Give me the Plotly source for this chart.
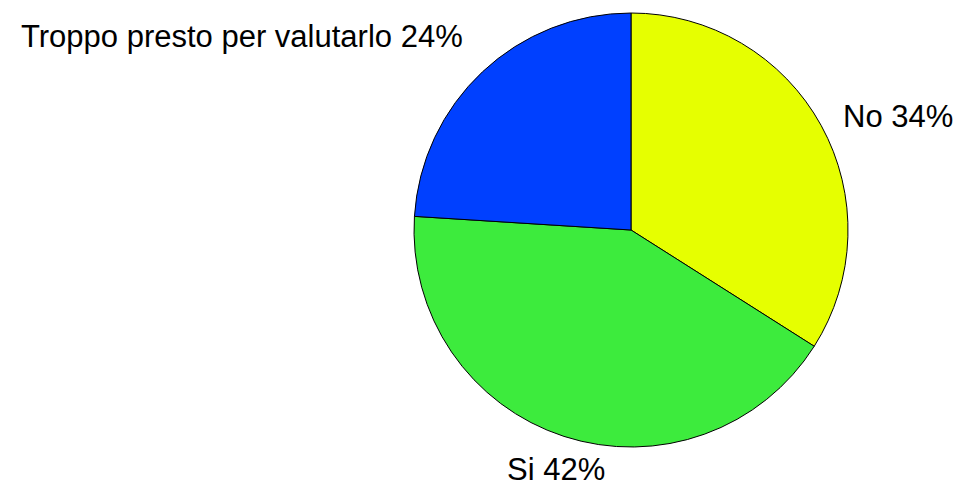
import plotly.graph_objects as go

labels = ["No", "Si", "Troppo presto per valutarlo"]
values = [34, 42, 24]
colors = ["#E6FF00", "#3DEB3D", "#0040FF"]

W, H = 957, 489
cx, cy, r = 631, 230, 217

fig = go.Figure(go.Pie(
    labels=labels, values=values, sort=False, direction="clockwise", rotation=0,
    marker=dict(colors=colors, line=dict(color="black", width=1)),
    textinfo="none", hoverinfo="label+percent", showlegend=False,
    domain=dict(x=[(cx - r) / W, (cx + r) / W], y=[1 - (cy + r) / H, 1 - (cy - r) / H]),
))

# label anchor positions (pixels): x, y, xanchor
label_pos = [(842, 116, "left"), (556, 469, "center"), (464, 37, "right")]
for lab, v, (x, y, xa) in zip(labels, values, label_pos):
    fig.add_annotation(text=f"{lab} {v}%", x=x / W, y=1 - y / H,
                       xref="paper", yref="paper",
                       xanchor=xa, yanchor="middle", showarrow=False, borderpad=0,
                       font=dict(family="Liberation Sans, Arial", size=31, color="black"))

fig.update_layout(width=W, height=H, margin=dict(l=0, r=0, t=0, b=0),
                  paper_bgcolor="white", plot_bgcolor="white")
fig.write_html("out.html", config={"displayModeBar": False},
               post_script="document.body.style.margin='0';document.body.style.overflow='hidden';")
